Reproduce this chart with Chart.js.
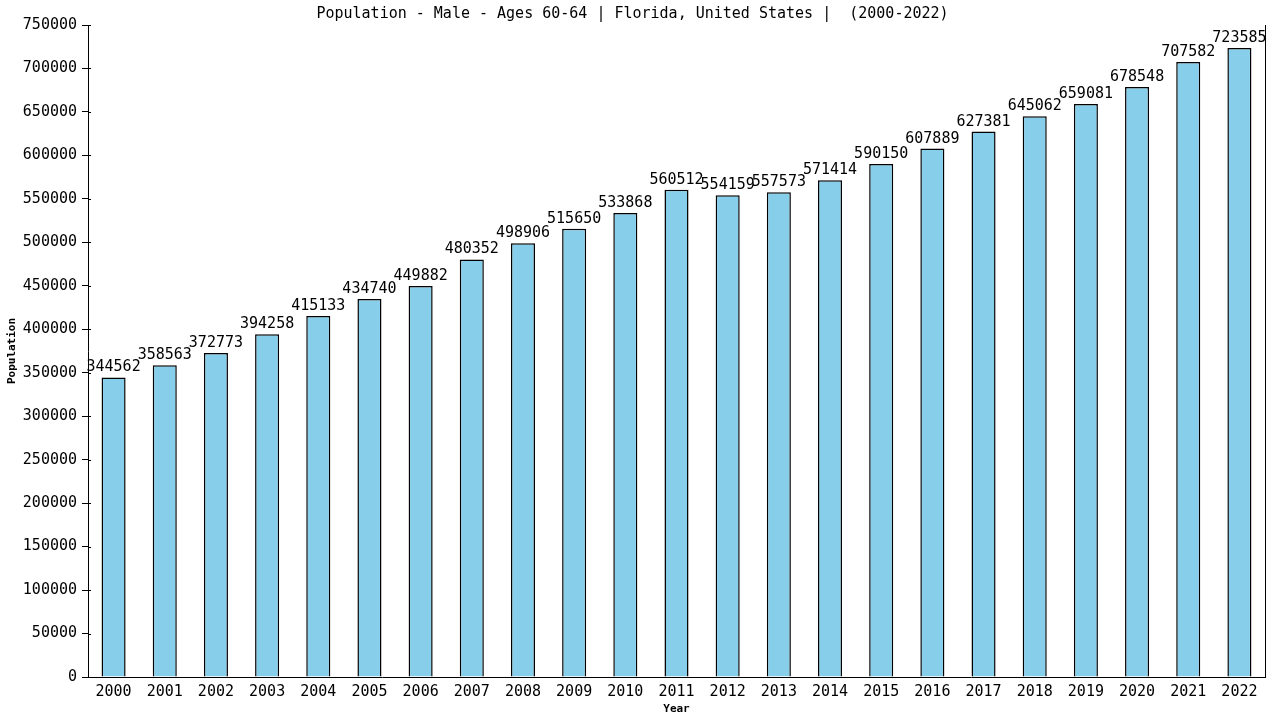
<!DOCTYPE html>
<html>
<head>
<meta charset="utf-8">
<script src="https://cdn.jsdelivr.net/npm/chart.js@4"></script>
<style>
  html, body { margin: 0; padding: 0; background: #fff; }
  #wrap { width: 1280px; height: 720px; }
</style>
</head>
<body>
<div id="wrap"><canvas id="popChart" width="1280" height="720"></canvas></div>
<script>
// Chart data
const years = ['2000', '2001', '2002', '2003', '2004', '2005', '2006', '2007', '2008', '2009', '2010', '2011',
               '2012', '2013', '2014', '2015', '2016', '2017', '2018', '2019', '2020', '2021', '2022'];
const population = [344562, 358563, 372773, 394258, 415133, 434740, 449882, 480352, 498906, 515650, 533868, 560512,
                    554159, 557573, 571414, 590150, 607889, 627381, 645062, 659081, 678548, 707582, 723585];
const yMax = 750000;
const yStep = 50000;

const MONO = "'DejaVu Sans Mono', 'Liberation Mono', monospace";

// Value labels over bars, inner tick stubs, right frame line
const extrasPlugin = {
    id: 'extras',
    afterDatasetsDraw(chart) {
        const ctx = chart.ctx;
        const area = chart.chartArea;
        const yScale = chart.scales.y;
        ctx.save();
        ctx.strokeStyle = '#000';
        ctx.lineWidth = 1;

        // right frame line
        ctx.beginPath();
        ctx.moveTo(Math.round(area.right) + 0.5, area.top);
        ctx.lineTo(Math.round(area.right) + 0.5, area.bottom);
        ctx.stroke();

        // tick stubs on the inside of the y axis
        yScale.ticks.forEach(t => {
            const y = Math.round(yScale.getPixelForValue(t.value)) + 0.5;
            ctx.beginPath();
            ctx.moveTo(area.left, y);
            ctx.lineTo(area.left + 3, y);
            ctx.stroke();
        });

        // value labels
        ctx.fillStyle = '#000';
        ctx.font = '15px ' + MONO;
        ctx.textAlign = 'center';
        ctx.textBaseline = 'alphabetic';
        const meta = chart.getDatasetMeta(0);
        meta.data.forEach((bar, i) => {
            ctx.fillText(String(population[i]), bar.x, bar.y - 6);
        });
        ctx.restore();
    }
};

new Chart(document.getElementById('popChart'), {
    type: 'bar',
    data: {
        labels: years,
        datasets: [{
            label: 'Population',
            data: population,
            backgroundColor: '#87ceeb',
            borderColor: '#000',
            borderWidth: 1.5,
            borderSkipped: 'bottom',
            barPercentage: 0.47,
            categoryPercentage: 1.0
        }]
    },
    options: {
        responsive: false,
        animation: false,
        devicePixelRatio: 1,
        layout: { padding: { left: 0, right: 15, top: 0, bottom: 0 } },
        plugins: {
            legend: { display: false },
            tooltip: { enabled: false },
            title: {
                display: true,
                text: 'Population - Male - Ages 60-64 | Florida, United States |  (2000-2022)',
                color: '#000',
                font: { family: MONO, size: 15, weight: 'normal' },
                padding: { top: 5, bottom: 2 }
            }
        },
        scales: {
            x: {
                grid: { display: false, drawTicks: false },
                border: { display: true, color: '#000', width: 1 },
                ticks: {
                    color: '#000',
                    font: { family: MONO, size: 15 },
                    padding: 6,
                    maxRotation: 0,
                    autoSkip: false
                },
                title: {
                    display: true,
                    text: 'Year',
                    color: '#000',
                    font: { family: MONO, size: 11, weight: 'bold' },
                    padding: { top: 2, bottom: 4 }
                },
                afterFit(scale) { scale.height = 43; }
            },
            y: {
                min: 0,
                max: yMax,
                grid: { drawOnChartArea: false, drawTicks: true, tickLength: 6, color: '#000' },
                border: { display: true, color: '#000', width: 1 },
                ticks: {
                    stepSize: yStep,
                    color: '#000',
                    font: { family: MONO, size: 15 },
                    padding: 5,
                    callback: v => String(v)
                },
                title: {
                    display: true,
                    text: 'Population',
                    color: '#000',
                    font: { family: MONO, size: 11, weight: 'bold' },
                    padding: { top: 6, bottom: 4 }
                },
                afterFit(scale) { scale.width = 88; }
            }
        }
    },
    plugins: [extrasPlugin]
});
</script>
</body>
</html>
